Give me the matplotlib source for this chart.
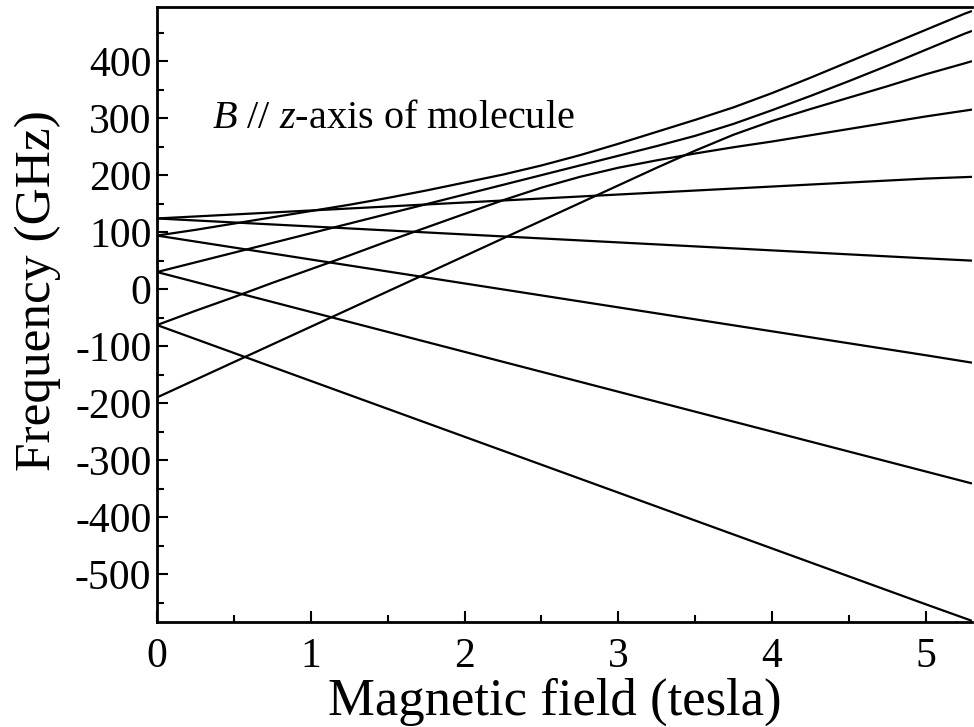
import matplotlib
matplotlib.use("Agg")
import matplotlib.pyplot as plt
from matplotlib.ticker import MultipleLocator

plt.rcParams['font.family'] = ['Liberation Serif', 'DejaVu Serif']
plt.rcParams['mathtext.fontset'] = 'custom'
plt.rcParams['mathtext.rm'] = 'Liberation Serif'
plt.rcParams['mathtext.it'] = 'Liberation Serif:italic'
plt.rcParams['axes.unicode_minus'] = False

# ---- data ----
# straight levels, sampled at these fields (tesla)
b_straight = [0, 1, 2, 3, 4, 5, 5.3]
down_half = [124, 110, 96, 82, 68, 54, 50]
down_3half = [94, 52, 10, -32, -74, -116, -129]
down_5half = [30, -40, -110, -180, -250, -320, -341]
down_7half = [-63, -161, -259, -357, -455, -553, -582]
up_half = [124, 138, 152, 166, 180, 194, 197]

# curved levels (anticrossings), sampled every 0.25 T
b_fine = [0, 0.25, 0.5, 0.75, 1.0, 1.25, 1.5, 1.75, 2.0, 2.25, 2.5, 2.75,
          3.0, 3.25, 3.5, 3.75, 4.0, 4.25, 4.5, 4.75, 5.0, 5.25, 5.3]
upper_a = [94, 104, 115, 126, 137, 148, 160, 173, 187, 201, 217, 235,
           255, 276, 297, 319, 344, 371, 399, 427, 455, 483, 488]
lower_a = [-63, -38, -14, 11, 35, 59, 84, 108, 132, 156, 178, 197,
           213, 226, 238, 249, 259, 270, 281, 292, 303, 313, 315]
upper_b = [30, 47, 64, 81, 98, 115, 132, 149, 166, 183, 200, 217,
           234, 251, 269, 290, 314, 339, 365, 392, 420, 448, 453]
lower_b = [-190, -159, -128, -97, -66, -35, -4, 27, 58, 89, 120, 151,
           182, 213, 243, 271, 295, 316, 336, 356, 377, 396, 400]

x_ticks = [0, 1, 2, 3, 4, 5]
y_ticks = [-500, -400, -300, -200, -100, 0, 100, 200, 300, 400]

W, H = 974, 727
fig = plt.figure(figsize=(W / 100, H / 100), dpi=100)
ax = fig.add_axes([157 / W, 1 - 622 / H, (972 - 157) / W, (622 - 7) / H])

lw = 1.6
for ys in (down_half, down_3half, down_5half, down_7half, up_half):
    ax.plot(b_straight, ys, color='black', lw=lw, solid_capstyle='butt')
for ys in (upper_a, lower_a, upper_b, lower_b):
    ax.plot(b_fine, ys, color='black', lw=lw, solid_capstyle='butt',
            solid_joinstyle='round')

ax.set_xlim(0, 5.3)
ax.set_ylim(-584, 495)
ax.set_xticks(x_ticks)
ax.set_yticks(y_ticks)
ax.set_xticklabels([str(v) for v in x_ticks])
ax.set_yticklabels([str(v) for v in y_ticks])
ax.xaxis.set_minor_locator(MultipleLocator(0.5))
ax.yaxis.set_minor_locator(MultipleLocator(50))

ax.tick_params(which='both', direction='in', width=1.5, labelsize=30,
               top=False, right=False)
ax.tick_params(which='major', length=8)
ax.tick_params(which='minor', length=5)
ax.tick_params(axis='x', pad=11)
ax.tick_params(axis='y', pad=4)

for s in ('left', 'bottom', 'top'):
    ax.spines[s].set_linewidth(2.0)
ax.spines['right'].set_visible(False)

ax.set_xlabel('Magnetic field (tesla)', fontsize=38)
ax.set_ylabel('Frequency (GHz)', fontsize=37)
ax.xaxis.set_label_coords((555 - 157) / 815, -(678 - 622) / 615)
ax.yaxis.set_label_coords((61 - 157) / 815, (622 - 291) / 615)

ax.text(0.36, 282, r'$B$ // $z$-axis of molecule', fontsize=29,
        ha='left', va='baseline')

fig.savefig('out.png', dpi=100)
